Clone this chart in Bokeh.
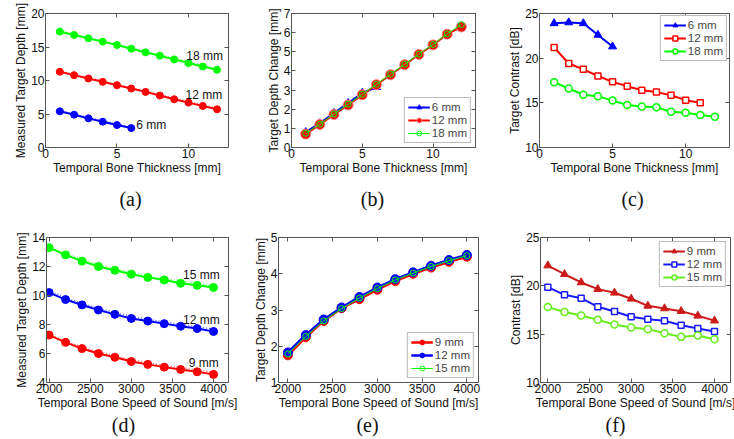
from bokeh.plotting import figure
from bokeh.models import Range1d, LinearAxis, FixedTicker, Label
from bokeh.layouts import column, row
from bokeh.embed import file_html
from bokeh.resources import INLINE

# ---------------- data ----------------
thick_6 = [1, 2, 3, 4, 5, 6]
thick_12 = [1, 2, 3, 4, 5, 6, 7, 8, 9, 10, 11, 12]
thick_c12 = [1, 2, 3, 4, 5, 6, 7, 8, 9, 10, 11]
thick_c6 = [1, 2, 3, 4, 5]

a_y6 = [5.4, 4.9, 4.35, 3.85, 3.35, 2.9]
a_y6_dot = [5.5, 5.0, 4.5, 4.0, 3.5, 3.0]
a_y12 = [11.3, 10.8, 10.3, 9.8, 9.3, 8.8, 8.3, 7.75, 7.2, 6.7, 6.2, 5.7]
a_y12_dot = [11.4, 10.9, 10.4, 9.9, 9.4, 8.9, 8.4, 7.9, 7.35, 6.85, 6.35, 5.85]
a_y18 = [17.3, 16.8, 16.3, 15.8, 15.3, 14.75, 14.2, 13.7, 13.15, 12.6, 12.1, 11.6]
a_y18_dot = [17.4, 16.9, 16.4, 15.9, 15.4, 14.9, 14.35, 13.85, 13.3, 12.75, 12.25, 11.75]

b_y6 = [0.8, 1.26, 1.8, 2.32, 2.85, 3.15]
b_y12 = [0.7, 1.2, 1.72, 2.22, 2.75, 3.28, 3.8, 4.32, 4.86, 5.36, 5.92, 6.3]
b_y18 = [0.74, 1.22, 1.75, 2.26, 2.78, 3.3, 3.83, 4.35, 4.88, 5.38, 5.94, 6.42]

c_y6 = [23.9, 24.0, 23.9, 22.6, 21.3]
c_y12 = [21.2, 19.4, 18.75, 18.0, 17.35, 16.85, 16.4, 16.2, 15.85, 15.3, 15.0]
c_y18 = [17.3, 16.6, 15.9, 15.75, 15.25, 14.75, 14.6, 14.5, 14.0, 13.9, 13.65, 13.45]

sos = [2000, 2200, 2400, 2600, 2800, 3000, 3200, 3400, 3600, 3800, 4000]
d_y15 = [13.3, 12.8, 12.37, 12.0, 11.74, 11.47, 11.25, 11.07, 10.84, 10.7, 10.55]
d_y15_dot = [13.35, 12.9, 12.5, 12.15, 11.85, 11.6, 11.38, 11.18, 11.0, 10.83, 10.68]
d_y12 = [10.2, 9.72, 9.35, 9.0, 8.7, 8.42, 8.24, 8.06, 7.88, 7.72, 7.52]
d_y12_dot = [10.35, 9.85, 9.45, 9.12, 8.83, 8.57, 8.36, 8.17, 8.0, 7.84, 7.7]
d_y9 = [7.27, 6.77, 6.34, 6.0, 5.74, 5.45, 5.25, 5.06, 4.9, 4.74, 4.56]
d_y9_dot = [7.3, 6.85, 6.45, 6.12, 5.84, 5.58, 5.37, 5.18, 5.02, 4.87, 4.72]

e_y9 = [1.75, 2.25, 2.7, 3.05, 3.3, 3.56, 3.8, 4.0, 4.17, 4.33, 4.47]
e_y12 = [1.83, 2.31, 2.74, 3.07, 3.36, 3.62, 3.85, 4.04, 4.22, 4.38, 4.52]
e_y15 = [1.79, 2.27, 2.7, 3.04, 3.33, 3.59, 3.83, 4.02, 4.2, 4.36, 4.5]

f_y9 = [22.1, 21.2, 20.35, 19.66, 19.28, 18.66, 17.93, 17.66, 17.38, 16.9, 16.4]
f_y12 = [19.86, 19.07, 18.72, 17.83, 17.34, 16.8, 16.55, 16.38, 15.93, 15.59, 15.28]
f_y15 = [17.8, 17.3, 16.93, 16.48, 16.0, 15.69, 15.52, 15.1, 14.72, 14.87, 14.48]

thick_ticks = [0, 5, 10]
sos_ticks = [2000, 2500, 3000, 3500, 4000]
captions = ["(a)", "(b)", "(c)", "(d)", "(e)", "(f)"]

BLUE, RED, GREEN = "#0000ff", "#ff0000", "#00ff00"
RED_F, BLUE_F, GREEN_F = "#cc1a1a", "#1a1aff", "#66ee1a"

FONT = "Liberation Sans"
FS = "12px"
AX = "#555555"


def style_axis(ax, ticks, label=None, show_labels=True):
    ax.ticker = FixedTicker(ticks=ticks)
    ax.major_tick_in = 4
    ax.major_tick_out = 0
    ax.minor_tick_line_color = None
    ax.axis_line_color = AX
    ax.major_tick_line_color = AX
    ax.major_label_text_font = FONT
    ax.axis_label_text_font = FONT
    ax.axis_label_text_font_size = FS
    ax.axis_label_text_font_style = "normal"
    ax.axis_label_text_color = "#111111"
    ax.axis_label_standoff = 0
    ax.major_label_standoff = 1
    if show_labels:
        ax.major_label_text_font_size = FS
        ax.major_label_text_color = "#111111"
        ax.axis_label = label
    else:
        ax.major_label_text_font_size = "0px"
        ax.major_label_text_color = None
        ax.major_label_standoff = 0


def make_fig(W, H, bl, br, bt, bb, xr, yr, xt, yt, xlabel, ylabel):
    p = figure(width=W, height=H, x_range=Range1d(*xr), y_range=Range1d(*yr),
               output_backend="svg", toolbar_location=None,
               min_border_left=bl, min_border_right=br, min_border_top=bt, min_border_bottom=bb)
    p.outline_line_color = None
    p.xgrid.visible = False
    p.ygrid.visible = False
    style_axis(p.xaxis[0], xt, xlabel)
    style_axis(p.yaxis[0], yt, ylabel)
    top = LinearAxis()
    style_axis(top, xt, show_labels=False)
    p.add_layout(top, "above")
    right = LinearAxis()
    style_axis(right, yt, show_labels=False)
    p.add_layout(right, "right")
    return p


def caption_fig(text, W, H, cx, cy):
    c = figure(width=W, height=H, x_range=Range1d(0, W), y_range=Range1d(0, H),
               output_backend="svg", toolbar_location=None, min_border=0)
    c.axis.visible = False
    c.grid.visible = False
    c.outline_line_color = None
    c.add_layout(Label(x=cx, y=cy, text=text, text_align="center", text_baseline="middle",
                       text_font="Liberation Serif", text_font_size="20px",
                       text_color="#111111"))
    return c


def style_legend(p, loc, margin=4):
    lg = p.legend[0]
    lg.location = loc
    lg.label_text_font = FONT
    lg.label_text_font_size = "11.5px"
    lg.label_height = 12
    lg.glyph_height = 12
    lg.glyph_width = 22
    lg.spacing = 1
    lg.padding = 3
    lg.margin = margin
    lg.label_standoff = 2
    lg.border_line_color = "#777777"
    lg.background_fill_alpha = 1.0


H1, H2 = 185, 195
C1, C2 = 33, 26

# ---------------- (a) ----------------
pa = make_fig(245, H1, 45, 17, 13, 34, (0, 12.8), (0, 20), thick_ticks, [0, 5, 10, 15, 20],
              "Temporal Bone Thickness [mm]", "Measured Target Depth [mm]")
for xs, ys, yd, col in [(thick_6, a_y6, a_y6_dot, BLUE), (thick_12, a_y12, a_y12_dot, RED),
                        (thick_12, a_y18, a_y18_dot, GREEN)]:
    pa.line(xs, yd, line_color=col, line_width=1.5, line_dash="1 2", line_alpha=0.6)
    pa.line(xs, ys, line_color=col, line_width=2)
    pa.scatter(xs, ys, marker="circle", size=7, fill_color=col, line_color=col)
pa.text([9.85, 9.8, 6.35], [13.7, 7.9, 3.4], text=["18 mm", "12 mm", "6 mm"],
        text_font_size=FS, text_baseline="middle", text_align="left", text_color="#111111",
        text_font={"value": FONT})

# ---------------- (b) ----------------
pb = make_fig(245, H1, 46, 15, 7, 35, (0, 13), (0, 7), thick_ticks, [0, 1, 2, 3, 4, 5, 6, 7],
              "Temporal Bone Thickness [mm]", "Target Depth Change [mm]")
pb.line(thick_6, b_y6, line_color=BLUE, line_width=2, legend_label="6 mm")
pb.scatter(thick_6, b_y6, marker="triangle", size=8, fill_color=BLUE, line_color=BLUE, legend_label="6 mm")
pb.line(thick_12, b_y12, line_color=RED, line_width=2, legend_label="12 mm")
pb.scatter(thick_12, b_y12, marker="circle", size=10, fill_color=RED, line_color="#ff8080", legend_label="12 mm")
pb.line(thick_12, b_y18, line_color=GREEN, line_width=1, legend_label="18 mm")
pb.scatter(thick_12, b_y18, marker="circle", size=6, fill_color=None, line_color=GREEN, legend_label="18 mm")
style_legend(pb, "bottom_right")

# ---------------- (c) ----------------
pc = make_fig(244, H1, 49, 5, 7, 38, (0, 13), (10, 25), thick_ticks, [10, 15, 20, 25],
              "Temporal Bone Thickness [mm]", "Target Contrast [dB]")
pc.line(thick_c6, c_y6, line_color=BLUE, line_width=2, legend_label="6 mm")
pc.scatter(thick_c6, c_y6, marker="triangle", size=8, fill_color=BLUE, line_color=BLUE, legend_label="6 mm")
pc.line(thick_c12, c_y12, line_color=RED, line_width=2, legend_label="12 mm")
pc.scatter(thick_c12, c_y12, marker="square", size=6, fill_color="white", line_color=RED, line_width=1.5, legend_label="12 mm")
pc.line(thick_12, c_y18, line_color=GREEN, line_width=2, legend_label="18 mm")
pc.scatter(thick_12, c_y18, marker="circle", size=7, fill_color="white", line_color=GREEN, line_width=1.5, legend_label="18 mm")
style_legend(pc, "top_right", margin=2)

# ---------------- (d) ----------------
pd_ = make_fig(245, H2, 46, 17, 17, 31, (1968, 4182), (4, 14), sos_ticks, [4, 6, 8, 10, 12, 14],
               "Temporal Bone Speed of Sound [m/s]", "Measured Target Depth [mm]")
for ys, yd, col in [(d_y15, d_y15_dot, GREEN), (d_y12, d_y12_dot, BLUE), (d_y9, d_y9_dot, RED)]:
    pd_.line(sos, yd, line_color=col, line_width=1.5, line_dash="1 2", line_alpha=0.6)
    pd_.line(sos, ys, line_color=col, line_width=2)
    pd_.scatter(sos, ys, marker="circle", size=8, fill_color=col, line_color=col)
pd_.text([3629, 3629, 3697], [11.38, 8.33, 5.33], text=["15 mm", "12 mm", "9 mm"],
         text_font_size=FS, text_baseline="middle", text_align="left", text_color="#111111",
         text_font={"value": FONT})

# ---------------- (e) ----------------
pe = make_fig(245, H2, 33, 12, 15, 31, (1895, 4130), (1, 5), sos_ticks, [1, 2, 3, 4, 5],
              "Temporal Bone Speed of Sound [m/s]", "Target Depth Change [mm]")
pe.line(sos, e_y9, line_color=RED, line_width=2.5, legend_label="9 mm")
pe.scatter(sos, e_y9, marker="circle", size=9, fill_color=RED, line_color=RED, legend_label="9 mm")
pe.line(sos, e_y12, line_color=BLUE, line_width=2.5, legend_label="12 mm")
pe.scatter(sos, e_y12, marker="circle", size=9, fill_color=BLUE, line_color=BLUE, legend_label="12 mm")
pe.line(sos, e_y15, line_color=GREEN, line_width=1, legend_label="15 mm")
pe.scatter(sos, e_y15, marker="circle", size=6, fill_color=None, line_color=GREEN, legend_label="15 mm")
style_legend(pe, "bottom_right")

# ---------------- (f) ----------------
pf = make_fig(244, H2, 50, 4, 19, 31, (1912, 4192), (10, 25), sos_ticks, [10, 15, 20, 25],
              "Temporal Bone Speed of Sound [m/s]", "Contrast [dB]")
pf.line(sos, f_y9, line_color=RED_F, line_width=2, legend_label="9 mm")
pf.scatter(sos, f_y9, marker="triangle", size=8, fill_color=RED_F, line_color=RED_F, legend_label="9 mm")
pf.line(sos, f_y12, line_color=BLUE_F, line_width=2, legend_label="12 mm")
pf.scatter(sos, f_y12, marker="square", size=6, fill_color="white", line_color=BLUE_F, line_width=1.5, legend_label="12 mm")
pf.line(sos, f_y15, line_color=GREEN_F, line_width=2, legend_label="15 mm")
pf.scatter(sos, f_y15, marker="circle", size=7, fill_color="white", line_color=GREEN_F, line_width=1.5, legend_label="15 mm")
style_legend(pf, "top_right")

cap1 = row(caption_fig(captions[0], 245, C1, 130, 20),
           caption_fig(captions[1], 245, C1, 127, 20),
           caption_fig(captions[2], 244, C1, 142, 20))
cap2 = row(caption_fig(captions[3], 245, C2, 123, 15),
           caption_fig(captions[4], 245, C2, 122, 15),
           caption_fig(captions[5], 244, C2, 125, 15))

layout = column(row(pa, pb, pc), cap1, row(pd_, pe, pf), cap2)
open("out.html", "w").write(file_html(layout, INLINE))
